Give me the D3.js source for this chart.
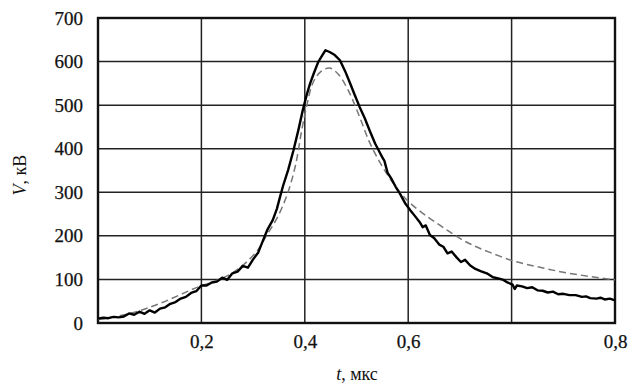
<!DOCTYPE html>
<html>
<head>
<meta charset="utf-8">
<script src="https://cdn.jsdelivr.net/npm/d3@7"></script>
<style>
  body { margin: 0; background: #fff; }
  svg text { font-family: "Liberation Serif", "Times New Roman", serif; fill: #111; }
</style>
</head>
<body>
<svg id="chart" width="631" height="384"></svg>
<script>
// x is measured in grid cells (5 cells across), labels follow the original axis
var xTicks = [0, 1, 2, 3, 4, 5];
var xTickLabels = ["", "0,2", "0,4", "0,6", "", "0,8"];
var yTicks = [0, 100, 200, 300, 400, 500, 600, 700];

// measured voltage (solid, noisy)
var measured = [
  [0.00,10],[0.05,12],[0.10,11],[0.15,14],[0.20,13],[0.25,15],[0.30,22],[0.35,19],
  [0.40,26],[0.45,21],[0.50,29],[0.55,24],[0.60,33],[0.65,36],[0.70,44],[0.75,48],
  [0.80,56],[0.85,60],[0.90,69],[0.95,73],[1.00,86],[1.05,86],[1.10,93],[1.15,95],
  [1.20,104],[1.25,99],[1.30,114],[1.35,118],[1.40,131],[1.45,127],[1.50,146],[1.55,162],
  [1.60,192],[1.64,215],[1.69,236],[1.73,262],[1.76,289],[1.79,315],[1.84,352],[1.89,396],
  [1.94,445],[1.98,488],[2.02,525],[2.05,549],[2.09,575],[2.13,599],[2.17,615],[2.20,626],
  [2.24,622],[2.29,615],[2.34,603],[2.39,578],[2.44,549],[2.48,525],[2.53,496],[2.58,470],
  [2.63,440],[2.68,412],[2.73,389],[2.75,380],[2.77,372],[2.80,345],[2.84,330],[2.88,312],
  [2.92,297],[2.97,275],[3.02,259],[3.06,247],[3.11,232],[3.14,220],[3.17,224],[3.21,202],
  [3.25,195],[3.30,180],[3.34,175],[3.38,160],[3.42,164],[3.47,150],[3.51,140],[3.55,145],
  [3.60,132],[3.65,124],[3.70,119],[3.76,114],[3.82,105],[3.88,102],[3.92,99],[3.96,93],
  [4.01,88],[4.03,78],[4.05,86],[4.10,84],[4.15,80],[4.20,82],[4.25,75],[4.30,74],
  [4.35,70],[4.40,72],[4.45,66],[4.50,67],[4.56,64],[4.62,64],[4.68,60],[4.72,61],
  [4.76,57],[4.82,56],[4.86,58],[4.90,54],[4.95,56],[5.00,52]
];

// model curve (dashed)
var model = [
  [0.00,8],[0.31,22],[0.60,45],[0.94,80],[1.28,112],[1.52,160],[1.64,205],[1.73,240],
  [1.83,295],[1.91,362],[1.97,442],[2.02,500],[2.08,552],[2.16,578],[2.24,585],[2.32,572],
  [2.42,534],[2.53,473],[2.62,418],[2.70,380],[2.80,340],[2.92,300],[3.02,275],[3.18,245],
  [3.34,219],[3.50,194],[3.63,178],[3.79,162],[4.01,143],[4.25,129],[4.56,114],[5.00,99]
];

var fontFam = '"Liberation Serif", "Times New Roman", serif';

var margin = {top: 18, right: 16, bottom: 61, left: 98};
var svg = d3.select("#chart");
var width = +svg.attr("width") - margin.left - margin.right;
var height = +svg.attr("height") - margin.top - margin.bottom;
var g = svg.append("g").attr("transform", "translate(" + margin.left + "," + margin.top + ")");

var x = d3.scaleLinear().domain([0, 5]).range([0, width]);
var y = d3.scaleLinear().domain([0, 700]).range([height, 0]);

// grid
g.append("g").selectAll("line.gx")
  .data(xTicks).enter().append("line")
  .attr("x1", d => x(d)).attr("x2", d => x(d))
  .attr("y1", 0).attr("y2", height)
  .attr("stroke", "#222").attr("stroke-width", 1.5);

g.append("g").selectAll("line.gy")
  .data(yTicks).enter().append("line")
  .attr("x1", 0).attr("x2", width)
  .attr("y1", d => y(d)).attr("y2", d => y(d))
  .attr("stroke", "#222").attr("stroke-width", 1.5);

// frame
g.append("rect")
  .attr("x", 0).attr("y", 0).attr("width", width).attr("height", height)
  .attr("fill", "none").attr("stroke", "#111").attr("stroke-width", 2.4);

// axes (labels only)
var xAxis = d3.axisBottom(x).tickValues(xTicks)
  .tickFormat((d, i) => xTickLabels[i]).tickSize(0).tickPadding(12);
var gx = g.append("g").attr("transform", "translate(0," + height + ")").call(xAxis);
gx.select(".domain").remove();
gx.selectAll("text").style("font-family", fontFam).style("font-size", "19px")
  .style("stroke", "#111").style("stroke-width", 0.25);

var yAxis = d3.axisLeft(y).tickValues(yTicks).tickSize(0).tickPadding(15);
var gy = g.append("g").call(yAxis);
gy.select(".domain").remove();
gy.selectAll("text").style("font-family", fontFam).style("font-size", "19px")
  .style("stroke", "#111").style("stroke-width", 0.25);

// curves
var line = d3.line().x(d => x(d[0])).y(d => y(d[1]));
var smooth = d3.line().x(d => x(d[0])).y(d => y(d[1])).curve(d3.curveCatmullRom);

g.append("path").datum(model)
  .attr("d", smooth).attr("fill", "none")
  .attr("stroke", "#777").attr("stroke-width", 1.5)
  .attr("stroke-dasharray", "7,4");

g.append("path").datum(measured)
  .attr("d", line).attr("fill", "none")
  .attr("stroke", "#000").attr("stroke-width", 2.4)
  .attr("stroke-linejoin", "round");

// axis titles
var xt = svg.append("text")
  .attr("x", 357).attr("y", 380)
  .attr("text-anchor", "middle")
  .style("font-size", "18px");
xt.append("tspan").style("font-style", "italic").text("t");
xt.append("tspan").text(", мкс");

var yt = svg.append("text")
  .attr("transform", "translate(26,175) rotate(-90)")
  .attr("text-anchor", "middle")
  .style("font-size", "18px");
yt.append("tspan").style("font-style", "italic").text("V");
yt.append("tspan").text(", кВ");
</script>
</body>
</html>
